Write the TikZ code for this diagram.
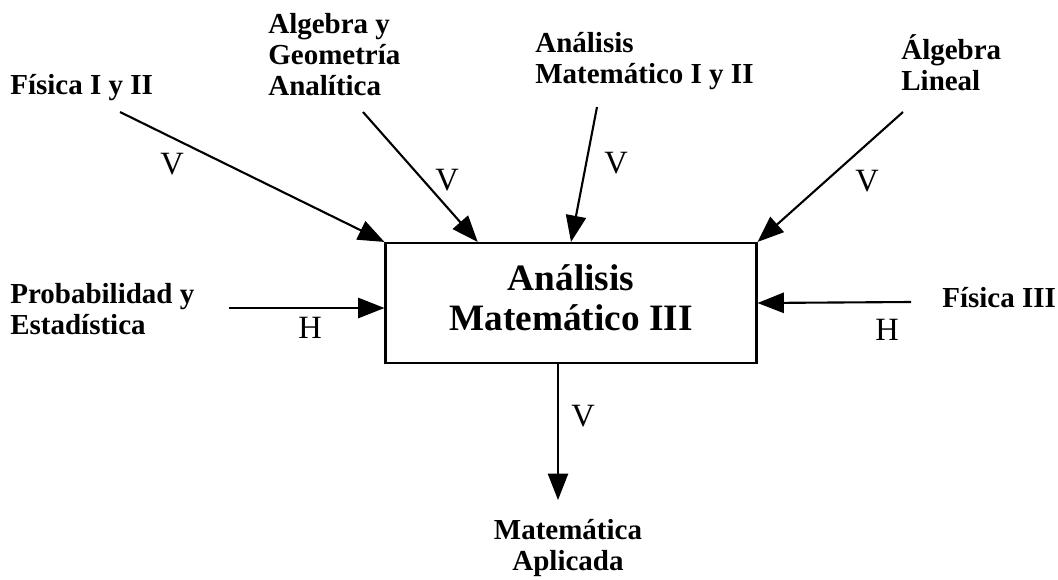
\documentclass[tikz,border=0pt]{standalone}
\usepackage{fontspec}
\setmainfont{Liberation Serif}
\usetikzlibrary{arrows.meta,positioning,calc}

\begin{document}
\begin{tikzpicture}[
  x=0.02cm, y=-0.02cm,
  box/.style={rectangle, draw, line width=1.2pt, align=center, font=\fontsize{21.2}{22.8}\selectfont\bfseries, inner sep=0pt},
  arrow/.style={-{Triangle[length=15pt, width=11.5pt]}, line width=1.2pt},
  course/.style={font=\fontsize{16.5}{17.6}\selectfont\bfseries, align=left, inner sep=0pt},
  rel/.style={font=\fontsize{18.5}{20}\selectfont, inner sep=0pt},
]
\useasboundingbox (0,0) rectangle (1058,579);

% === CENTRAL SUBJECT ===
\node[box, minimum width=7.42cm, minimum height=2.4cm] (main) at (571,303)
  {Análisis\\Matemático III\rule[-0.2cm]{0pt}{0pt}};

% === PREVIOUS SUBJECTS (anchored on last baseline) ===
\node[course, anchor=base west] (fis) at (10,94) {Física I y II};
\node[course, anchor=base west] (ageo) at (268,95) {Algebra y\\Geometría\\Analítica};
\node[course, anchor=base west] (am) at (535,83) {Análisis\\Matemático I y II};
\node[course, anchor=base west] (alin) at (901,90) {Álgebra\\Lineal};
\node[course, anchor=base west] (prob) at (10,334) {Probabilidad y\\Estadística};
\node[course, anchor=base west] (fis3) at (942,307) {Física III};
\node[course, align=center, anchor=base] (mapl) at (568,570) {Matemática\\Aplicada};

% arrow tails
\coordinate (tfis) at (120,112);
\coordinate (tageo) at (363,112);
\coordinate (tam) at (597,107);
\coordinate (talin) at (903,112);
\coordinate (tprob) at (229,308);
\coordinate (tfis3) at (911,302);
\coordinate (hmapl) at (558,500);

\draw[arrow] (tfis) -- (main.north west);
\draw[arrow] (tageo) -- ($(main.north west)!0.25!(main.north east)$);
\draw[arrow] (tam) -- (main.north);
\draw[arrow] (talin) -- (main.north east);
\draw[arrow] (tprob) -- ($(main.west)+(0,5)$);
\draw[arrow] (tfis3) -- (main.east);
\draw[arrow, line width=1pt] ($(main.south)+(-13,0)$) -- (hmapl);

\node[rel] (v1) at (172,164) {V};
\node[rel] (v2) at (447,180) {V};
\node[rel] (v3) at (616,163) {V};
\node[rel] (v4) at (867,181) {V};
\node[rel] (h1) at (310,328) {H};
\node[rel] (h2) at (887,330) {H};
\node[rel] (v5) at (583,416) {V};
\end{tikzpicture}
\end{document}
